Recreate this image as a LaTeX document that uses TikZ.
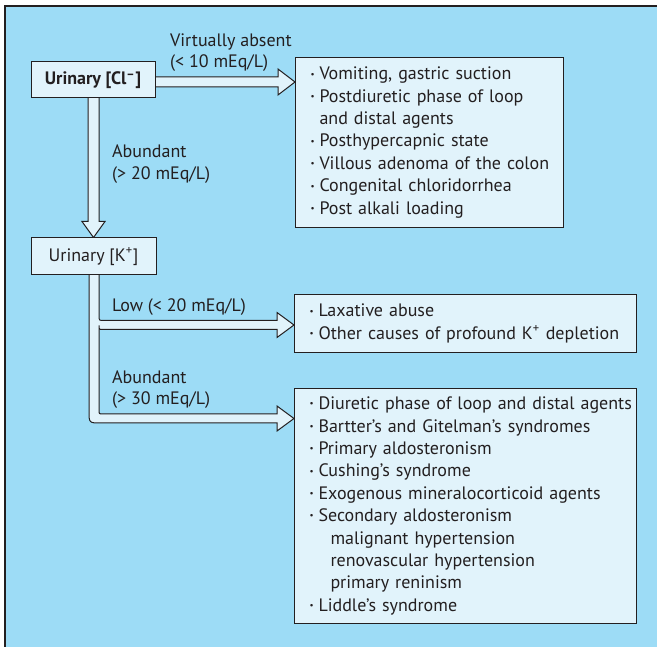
\documentclass[tikz,border=0pt]{standalone}
\usepackage{fontspec}
\setmainfont{PT Sans}
\usetikzlibrary{calc}
\definecolor{bgblue}{RGB}{157,220,246}
\definecolor{boxfill}{RGB}{225,243,251}
\definecolor{ink}{RGB}{35,31,32}
\newcommand\bl{\makebox[9pt][l]{\raisebox{0.3ex}{\fontsize{9}{9}\selectfont •}}}
\newcommand\subi{\hspace*{21pt}}
\pgfdeclarelayer{arrowlayer}
\pgfsetlayers{arrowlayer,main}
\begin{document}
\begin{tikzpicture}[x=1pt,y=1pt,
  box/.style={draw=ink, line width=1pt, fill=boxfill, text=ink, inner sep=0pt},
  listbox/.style={box, anchor=north west, align=left, inner xsep=15pt, inner ysep=0pt,
     font=\fontsize{18}{22.4}\selectfont},
  keybox/.style={box, font=\fontsize{18}{22}\selectfont},
  blockarrow/.style={draw=ink, line width=1pt, fill=boxfill, line join=miter},
  lbl/.style={text=ink, font=\fontsize{18}{22}\selectfont, anchor=base west, inner sep=0pt}
]
\useasboundingbox (0,0) rectangle (657,-647);
\begin{pgfonlayer}{arrowlayer}
\fill[white] (0,0) rectangle (657,-647);
\fill[bgblue] (5,-6) rectangle (657,-647);
\draw[line width=1.8pt, ink] (5,-647) -- (5,-6) -- (657,-6);
\end{pgfonlayer}

% key boxes
\node[keybox, font=\fontsize{18}{22}\selectfont\bfseries, minimum width=124pt, minimum height=36pt] (cl) at (93,-80) {Urinary [Cl\textsuperscript{–}]};
\node[keybox, minimum width=125pt, minimum height=37pt] (k) at (93.5,-256.5) {Urinary [K\textsuperscript{+}]};

% list boxes
\node[listbox, text width=238pt, minimum height=170pt] (b1) at (295,-57) {%
\begin{tabular}{@{}l@{}}
\bl Vomiting, gastric suction\\
\bl Postdiuretic phase of loop\\
\hspace*{9pt}and distal agents\\
\bl Posthypercapnic state\\
\bl Villous adenoma of the colon\\
\bl Congenital chloridorrhea\\
\bl Post alkali loading
\end{tabular}};

\node[listbox, text width=312pt, minimum height=58pt] (b2) at (294,-294) {%
\begin{tabular}{@{}l@{}}
\bl Laxative abuse\\
\bl Other causes of profound K\textsuperscript{+} depletion
\end{tabular}};

\node[listbox, text width=312pt, minimum height=235pt] (b3) at (294,-388) {%
\begin{tabular}{@{}l@{}}
\bl Diuretic phase of loop and distal agents\\
\bl Bartter's and Gitelman's syndromes\\
\bl Primary aldosteronism\\
\bl Cushing's syndrome\\
\bl Exogenous mineralocorticoid agents\\
\bl Secondary aldosteronism\\
\subi malignant hypertension\\
\subi renovascular hypertension\\
\subi primary reninism\\
\bl Liddle's syndrome
\end{tabular}};

% labels
\node[lbl] (l1a) at (170,-47) {Virtually absent};
\node[lbl] (l1b) at (170,-68) {(< 10 mEq/L)};
\node[lbl] (l2a) at (112,-158) {Abundant};
\node[lbl] (l2b) at (112,-180) {(> 20 mEq/L)};
\node[lbl] (l3) at (112,-312) {Low (< 20 mEq/L)};
\node[lbl] (l4a) at (112,-384) {Abundant};
\node[lbl] (l4b) at (112,-405) {(> 30 mEq/L)};

\begin{pgfonlayer}{arrowlayer}
% Cl -> list 1
\draw[blockarrow] let \p1=(cl.east), \p2=(b1.west) in
  (\x1-2,\y1+3) -- (\x2-17,\y1+3) -- (\x2-17,\y1+11) -- (\x2,\y1-2)
  -- (\x2-17,\y1-15) -- (\x2-17,\y1-7) -- (\x1-2,\y1-7);
% Cl -> K
\draw[blockarrow] let \p1=(cl.south), \p2=(k.north) in
  (\x1-5,\y1+2) -- (\x1-5,\y2+16) -- (\x1-11,\y2+16) -- (\x1+0.5,\y2)
  -- (\x1+12,\y2+16) -- (\x1+6,\y2+16) -- (\x1+6,\y1+2);
% K -> list 2 and list 3
\draw[blockarrow] let \p1=(k.south), \p2=(b2.west), \p3=(b3.north west) in
  (\x1-4.5,\y1+2) -- (\x1-4.5,\y3-23) .. controls (\x1-4.5,\y3-35) .. (\x1+7.5,\y3-35)
  -- (\x2-17,\y3-35) -- (\x2-17,\y3-43) -- (\x2,\y3-30.5) -- (\x2-17,\y3-18)
  -- (\x2-17,\y3-26) -- (\x1+9.5,\y3-26) .. controls (\x1+5.5,\y3-26) .. (\x1+5.5,\y3-22)
  -- (\x1+5.5,\y2-2) .. controls (\x1+5.5,\y2-6) .. (\x1+9.5,\y2-6)
  -- (\x2-17,\y2-6) -- (\x2-17,\y2-14) -- (\x2,\y2-1.5) -- (\x2-17,\y2+11)
  -- (\x2-17,\y2+3) -- (\x1+10.5,\y2+3) .. controls (\x1+5.5,\y2+3) .. (\x1+5.5,\y2+8)
  -- (\x1+5.5,\y1+2);
\end{pgfonlayer}
\end{tikzpicture}
\end{document}
